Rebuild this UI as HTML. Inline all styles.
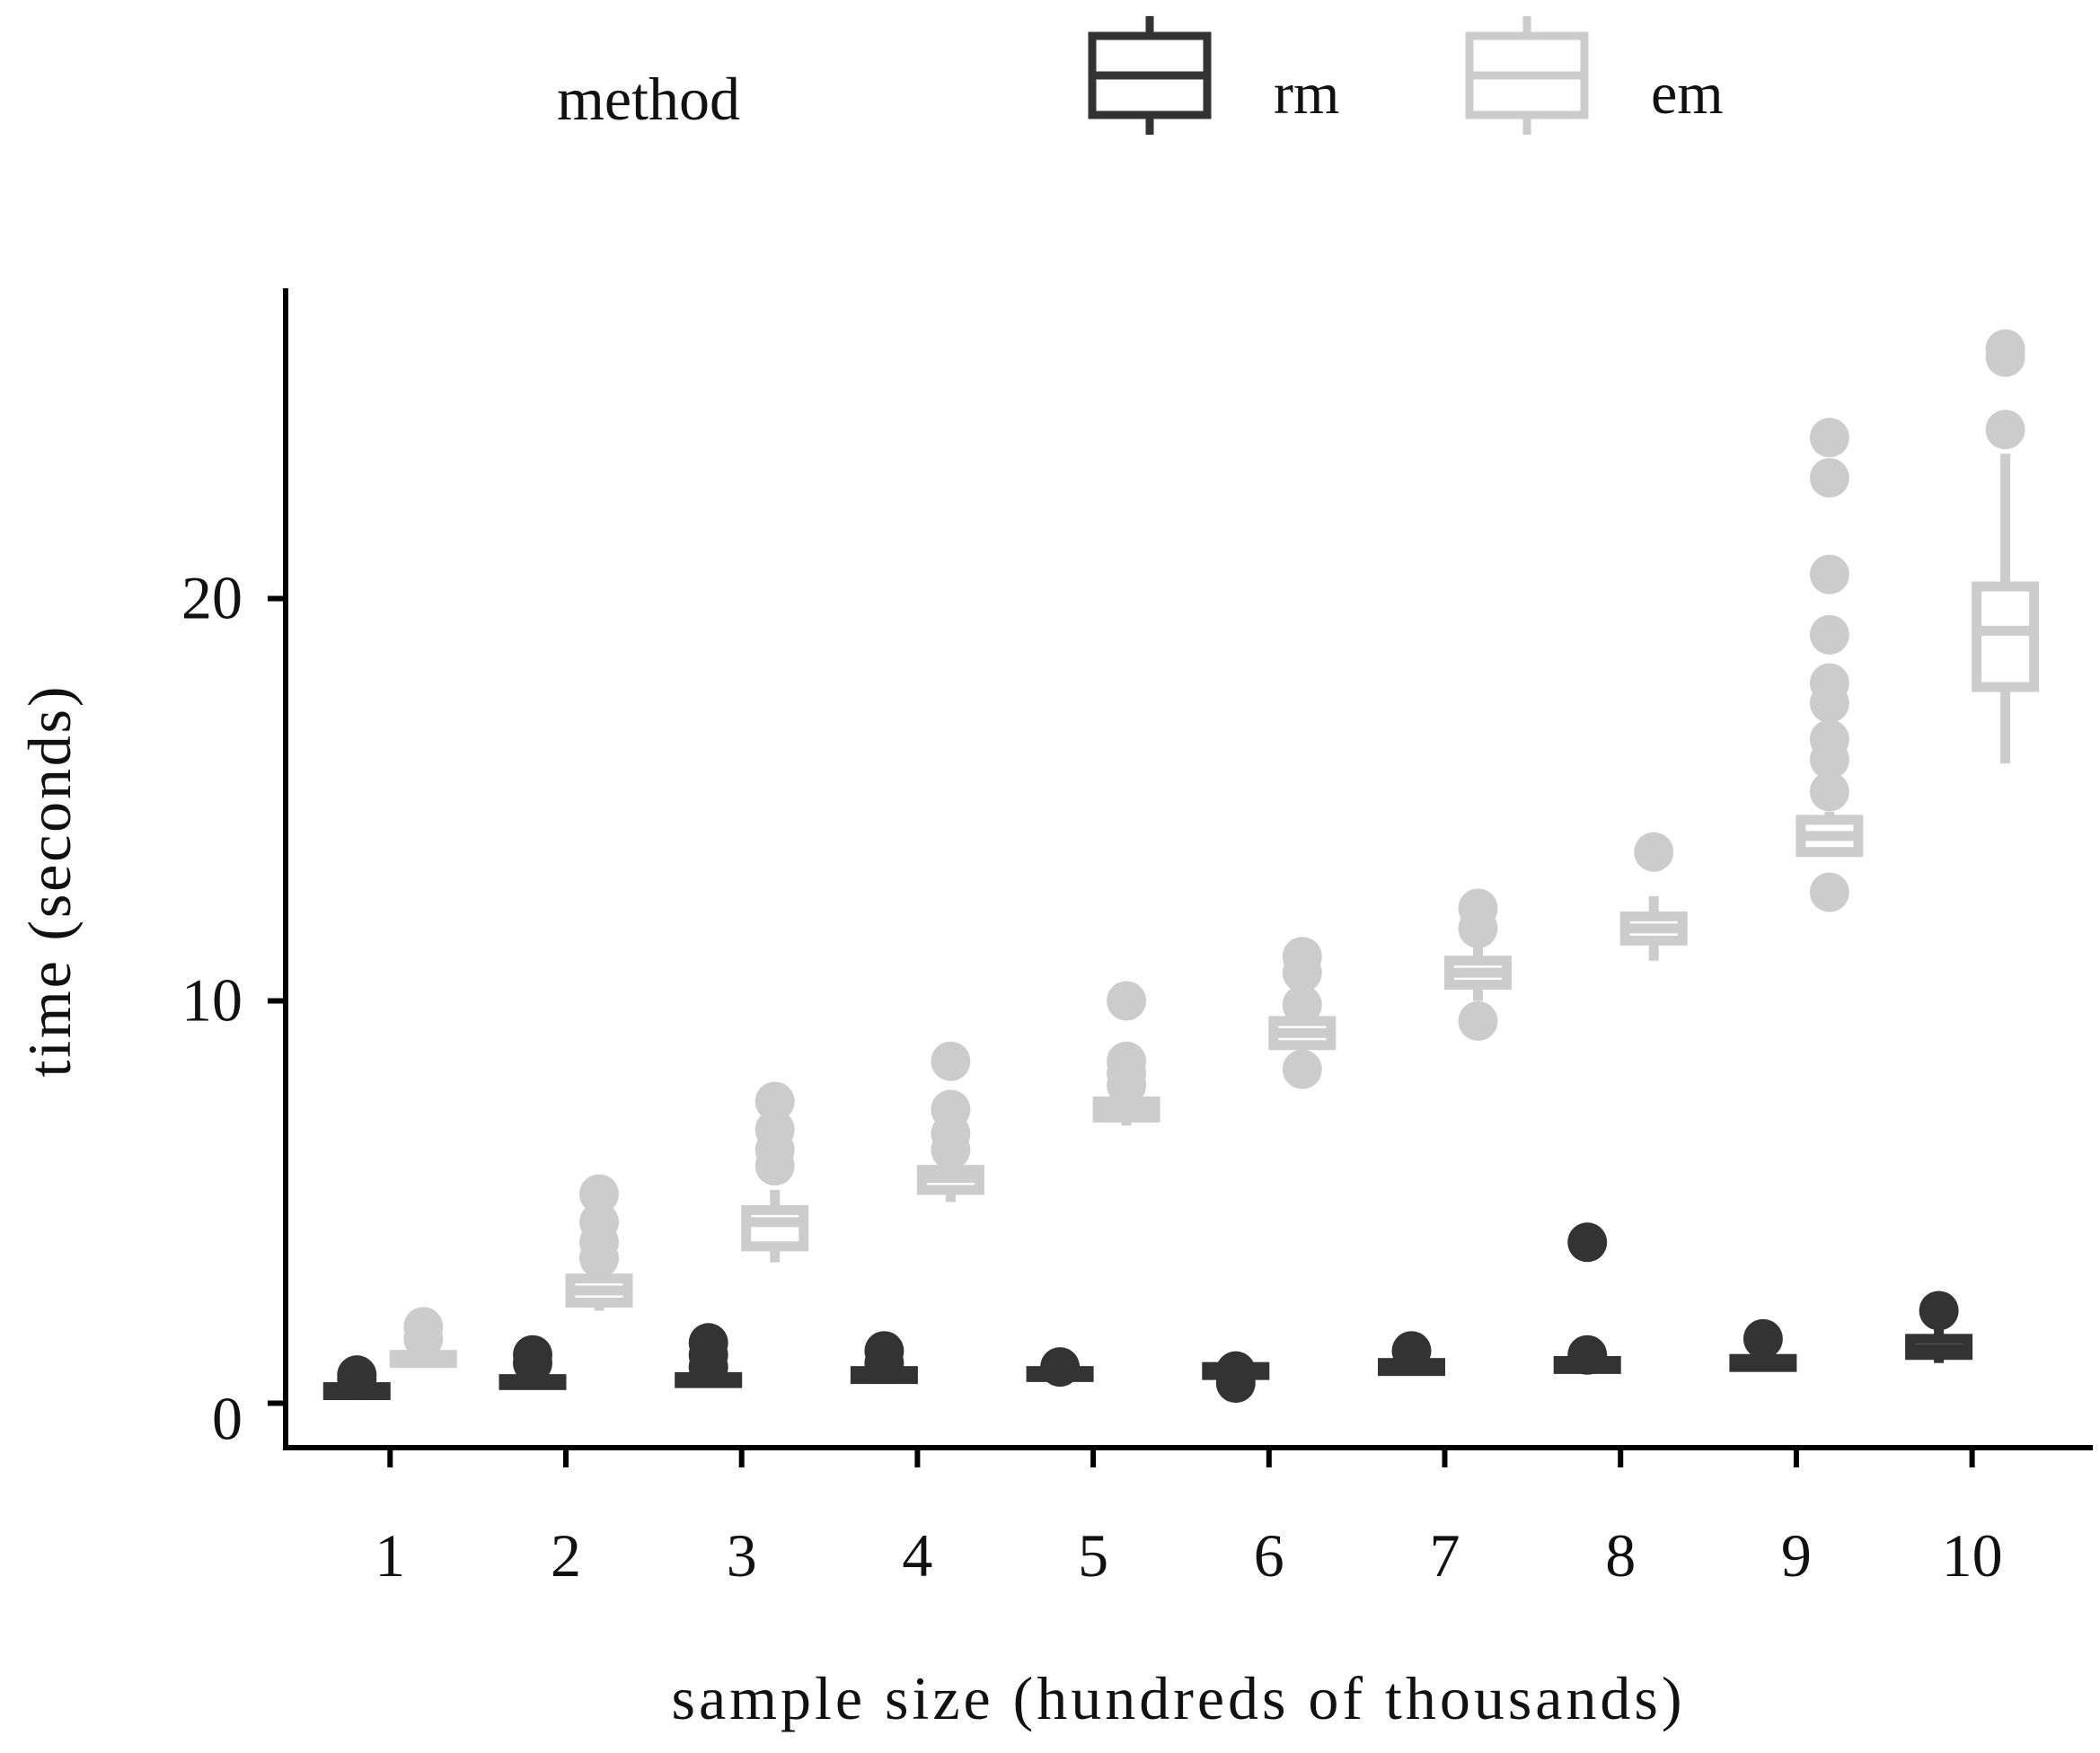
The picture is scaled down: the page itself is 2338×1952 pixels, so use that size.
<!DOCTYPE html>
<html><head><meta charset="utf-8"><style>
body{margin:0;background:#fff}
svg text{font-family:"Liberation Serif",serif;fill:#111}
</style></head><body>
<svg id="chart" width="2338" height="1947" viewBox="0 0 2338 1947" xmlns="http://www.w3.org/2000/svg">
<g>
<text x="620" y="133" font-size="68">method</text>
<g stroke="#333" stroke-width="9" fill="none">
<line x1="1280" y1="18" x2="1280" y2="150"/><rect x="1216" y="40" width="128" height="88" fill="#fff"/><line x1="1216" y1="84" x2="1344" y2="84"/></g>
<text x="1418" y="126" font-size="66">rm</text>
<g stroke="#ccc" stroke-width="9" fill="none">
<line x1="1700" y1="18" x2="1700" y2="150"/><rect x="1636" y="40" width="128" height="88" fill="#fff"/><line x1="1636" y1="84" x2="1764" y2="84"/></g>
<text x="1838" y="126" font-size="66">em</text>
</g>
<g id="marks"></g>
<g id="axes" stroke="#000" stroke-width="6"></g>
<text x="1310" y="1914" font-size="68" text-anchor="middle" textLength="1125">sample size (hundreds of thousands)</text>
<text transform="translate(78,982) rotate(-90)" font-size="68" text-anchor="middle" textLength="435">time (seconds)</text>
</svg>
<script>
const categories=[1,2,3,4,5,6,7,8,9,10];
const yTicks=[0,10,20];
// [whiskerLow, q1, median, q3, whiskerHigh]
const rmStats=[[0.1,0.2,0.3,0.4,0.5],[0.4,0.45,0.5,0.6,0.7],[0.45,0.5,0.55,0.65,0.75],[0.55,0.6,0.7,0.8,0.9],[0.6,0.65,0.7,0.8,0.85],[0.65,0.7,0.8,0.9,0.95],[0.75,0.8,0.9,1.0,1.05],[0.8,0.85,0.95,1.05,1.1],[0.85,0.9,1.0,1.1,1.2],[1.0,1.2,1.35,1.6,1.9]];
const rmOut=[[0.6,0.7],[1.0,1.2],[0.9,1.2,1.5],[1.0,1.3],[0.9],[0.5,0.8],[1.3],[1.2,4.0],[1.6],[2.3]];
const emStats=[[0.95,1.0,1.1,1.2,1.3],[2.3,2.5,2.8,3.1,3.3],[3.5,3.9,4.5,4.8,5.3],[5.0,5.3,5.6,5.8,6.0],[6.9,7.1,7.3,7.5,7.6],[8.7,8.9,9.2,9.5,9.7],[10.0,10.4,10.7,11.0,11.4],[11.0,11.5,11.8,12.1,12.6],[13.6,13.7,14.1,14.5,14.7],[15.9,17.8,19.2,20.3,23.6]];
const emOut=[[1.6,1.9],[3.6,4.0,4.5,5.2],[5.9,6.3,6.8,7.5],[6.3,6.7,7.3,8.5],[7.9,8.2,8.5,10.0],[8.3,9.9,10.7,11.1],[9.5,11.8,12.3],[13.7],[12.7,15.2,16.0,16.5,17.4,17.9,19.1,20.6,23.0,24.0],[24.2,26.0,26.2]];
const NS="http://www.w3.org/2000/svg";
const x0=318,x1=2330,yBase=1562.5,pxPer=44.8;
const xs=c=>434.3+(c-1)*195.7;
const ys=v=>yBase-v*pxPer;
const marks=document.getElementById('marks'),axes=document.getElementById('axes'),svg=document.getElementById('chart');
function mk(tag,attrs,parent){const e=document.createElementNS(NS,tag);for(const k in attrs)e.setAttribute(k,attrs[k]);parent.appendChild(e);return e;}
function drawSeries(stats,outs,off,col,name){
 stats.forEach((s,i)=>{
  const cx=xs(categories[i])+off,w=64;
  const g=mk('g',{stroke:col,'stroke-width':11,fill:'#fff'},marks);
  
  
  mk('line',{x1:cx,x2:cx,y1:ys(s[0]),y2:ys(s[4])},g);
  mk('rect',{x:cx-w/2,y:ys(s[3]),width:w,height:Math.max(ys(s[1])-ys(s[3]),0.1)},g);
  mk('line',{x1:cx-w/2,x2:cx+w/2,y1:ys(s[2]),y2:ys(s[2])},g);
  outs[i].forEach(v=>{const c=mk('circle',{cx:cx,cy:ys(v),r:22,fill:col},marks);
   
   });
 });
}
drawSeries(emStats,emOut,37,'#cccccc','em');
drawSeries(rmStats,rmOut,-37,'#333333','rm');
const ya=mk('line',{x1:x0,x2:x0,y1:321,y2:1615},axes);

const xa=mk('line',{x1:315,x2:x1,y1:1612,y2:1612},axes);

yTicks.forEach(t=>{mk('line',{x1:x0-20,x2:x0,y1:ys(t),y2:ys(t)},axes);
 const tx=mk('text',{x:270,y:ys(t)+(t===0?40:22),'font-size':68,'text-anchor':'end'},svg);tx.textContent=t;
 });
categories.forEach(c=>{mk('line',{x1:xs(c),x2:xs(c),y1:1612,y2:1634},axes);
 const tx=mk('text',{x:xs(c),y:1755,'font-size':68,'text-anchor':'middle'},svg);tx.textContent=c;
 });
</script>
</body></html>
